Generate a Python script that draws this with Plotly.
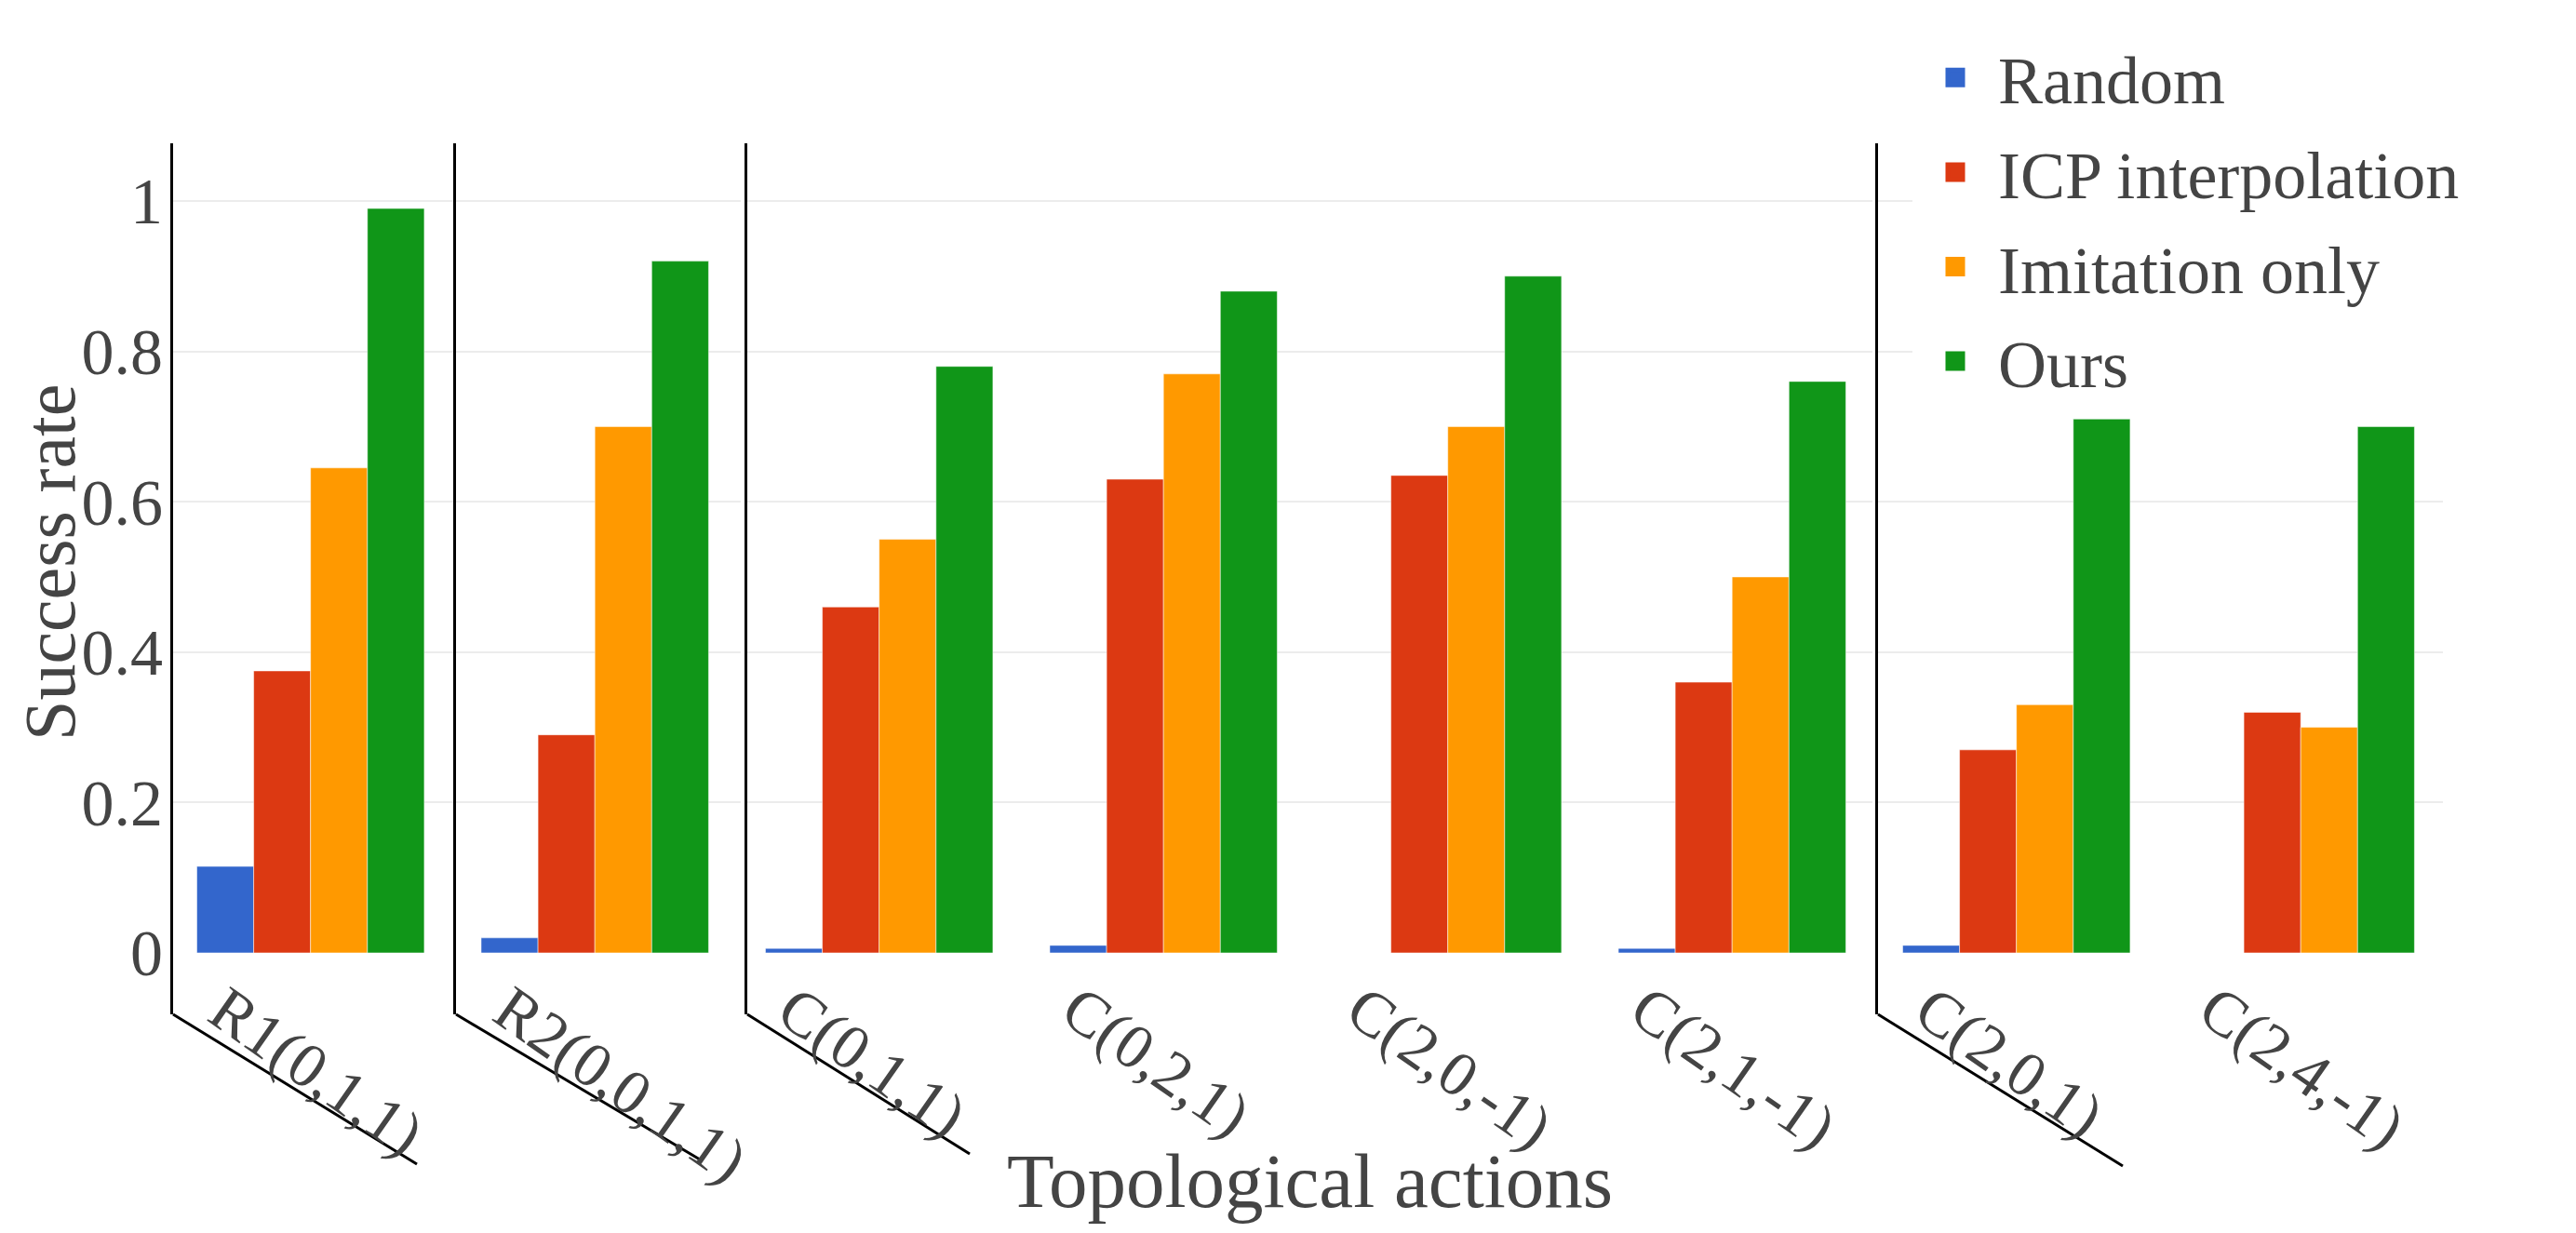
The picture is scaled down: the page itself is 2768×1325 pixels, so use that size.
import plotly.graph_objects as go

# ---------------- data ----------------
categories = ["R1(0,1,1)", "R2(0,0,1,1)", "C(0,1,1)", "C(0,2,1)",
              "C(2,0,-1)", "C(2,1,-1)", "C(2,0,1)", "C(2,4,-1)"]
group_sizes = [1, 1, 4, 2]          # categories per panel
series_names = ["Random", "ICP interpolation", "Imitation only", "Ours"]
random_vals = [0.115, 0.02, 0.006, 0.01, 0.0, 0.006, 0.01, 0.0]
icp_vals = [0.375, 0.29, 0.46, 0.63, 0.635, 0.36, 0.27, 0.32]
imitation_vals = [0.645, 0.70, 0.55, 0.77, 0.70, 0.50, 0.33, 0.30]
ours_vals = [0.99, 0.92, 0.78, 0.88, 0.90, 0.76, 0.71, 0.70]
y_ticks = [0, 0.2, 0.4, 0.6, 0.8, 1]
y_tick_labels = ["0", "0.2", "0.4", "0.6", "0.8", "1"]
x_title = "Topological actions"
y_title = "Success rate"

# ---------------- style ----------------
colors = ["#3366CC", "#DC3912", "#FF9900", "#109618"]
FONT = "Liberation Serif"
TXT = "#444444"
W, H = 2768, 1325
OFF = 8                              # page body margin
ML, MR, MT, MB = 178, 151, 146, 243  # figure margins
PW, PH = W - ML - MR, H - MT - MB


def px_x(p):
    """page pixel x -> paper fraction"""
    return (p - OFF - ML) / PW


def px_y(p):
    """page pixel y -> paper fraction"""
    return (H - MB - (p - OFF)) / PH


# panel pixel extents (page coords), first-category centre and pitch
panel_px = [(186, 488), (490, 796), (803, 2012), (2018, 2625)]
first_center_px = 333.7
pitch_px = 305.5
y_range = [-0.0817, 1.0767]

all_vals = [random_vals, icp_vals, imitation_vals, ours_vals]

fig = go.Figure()
layout = dict(
    width=W, height=H,
    margin=dict(l=ML, r=MR, t=MT, b=MB, pad=0),
    template="plotly_white",
    paper_bgcolor="white", plot_bgcolor="white",
    barmode="group", bargap=0.2, bargroupgap=0,
    font=dict(family=FONT, color=TXT, size=70),
    showlegend=True,
    legend=dict(
        x=px_x(2055), xanchor="left", y=px_y(30), yanchor="top",
        bgcolor="white", borderwidth=0, itemwidth=82,
        font=dict(family=FONT, size=72, color=TXT),
        traceorder="grouped", tracegroupgap=5, itemsizing="trace",
    ),
)

annotations = []
shapes = []
start = 0
for k, n in enumerate(group_sizes):
    idx = k + 1
    sfx = "" if idx == 1 else str(idx)
    cats = categories[start:start + n]
    a, b = panel_px[k]
    c0 = first_center_px + start * pitch_px
    layout["xaxis" + sfx] = dict(
        domain=[px_x(a), px_x(b)], anchor="y" + sfx, type="category",
        categoryorder="array", categoryarray=cats,
        range=[(a - c0) / pitch_px, (b - c0) / pitch_px],
        showgrid=False, showline=False, zeroline=False,
        showticklabels=False, ticks="",
    )
    layout["yaxis" + sfx] = dict(
        domain=[0, 1], anchor="x" + sfx, range=y_range,
        tickvals=y_ticks, ticktext=y_tick_labels,
        showgrid=True, gridcolor="#ececec", gridwidth=2,
        zeroline=True, zerolinecolor="white", zerolinewidth=2,
        showline=True, linecolor="black", linewidth=3,
        ticks="", showticklabels=(k == 0), ticklabelstandoff=-6,
        tickfont=dict(family=FONT, size=70, color=TXT),
    )
    for s, name in enumerate(series_names):
        fig.add_trace(go.Bar(
            x=cats, y=all_vals[s][start:start + n], name=name,
            marker=dict(color=colors[s], line=dict(color="white", width=0.5)),
            xaxis="x" + sfx, yaxis="y" + sfx,
            legendgroup=name, showlegend=False,
        ))
    for c in cats:
        annotations.append(dict(
            text=c, xref="x" + sfx, x=c, yref="paper", y=px_y(1042),
            xanchor="left", yanchor="top", xshift=-125, textangle=35,
            showarrow=False, font=dict(family=FONT, size=68, color=TXT),
        ))
    start += n

# legend entries (square swatches, one per series; they draw nothing in the plot)
for s, name in enumerate(series_names):
    fig.add_trace(go.Scatter(
        x=[None], y=[None], mode="markers", name=name, legendgroup=name,
        marker=dict(symbol="square", size=16, color=colors[s],
                    line=dict(color=colors[s], width=5)),
        xaxis="x", yaxis="y", hoverinfo="skip", showlegend=True,
    ))

# diagonal separator strokes below each panel's axis line
diag_px = [((186, 1090), (448, 1251)), ((490, 1090), (752, 1246)),
           ((803, 1090), (1042, 1240)), ((2018, 1090), (2281, 1253))]
for (x0, y0), (x1, y1) in diag_px:
    shapes.append(dict(type="line", xref="paper", yref="paper",
                       x0=px_x(x0), y0=px_y(y0), x1=px_x(x1), y1=px_y(y1),
                       line=dict(color="black", width=3)))

annotations.append(dict(text=x_title, xref="paper", yref="paper",
                        x=px_x(1407), y=px_y(1269), xanchor="center", yanchor="middle",
                        showarrow=False, font=dict(family=FONT, size=83, color=TXT)))
annotations.append(dict(text=y_title, xref="paper", yref="paper", textangle=-90,
                        x=px_x(53), y=px_y(605), xanchor="center", yanchor="middle",
                        showarrow=False, font=dict(family=FONT, size=78, color=TXT)))

layout["annotations"] = annotations
layout["shapes"] = shapes
fig.update_layout(**layout)

fig.write_html("out.html")
